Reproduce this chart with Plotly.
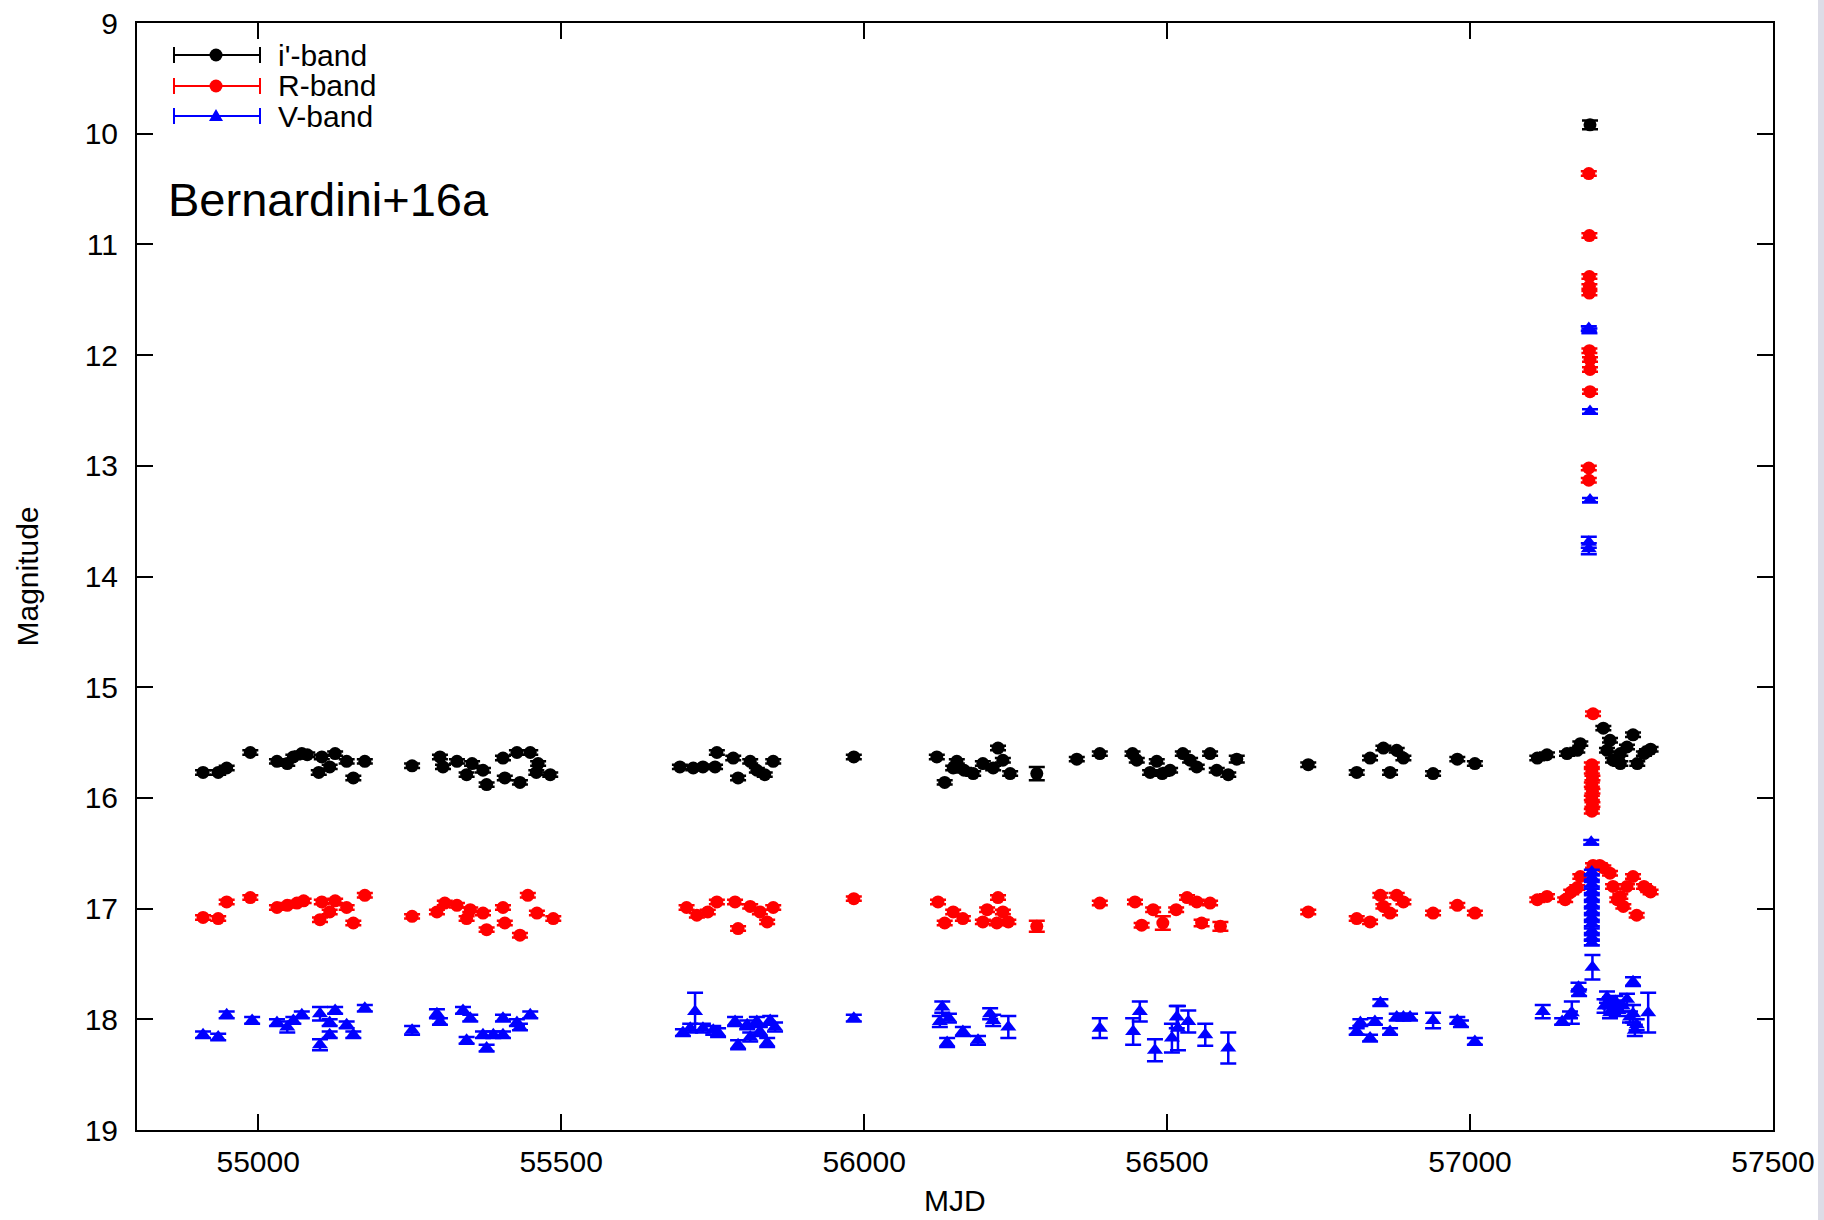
import plotly.graph_objects as go

# ---------------------------------------------------------------------------
# Optical light curves of V404 Cyg (i', R, V), 2009-2015
# ---------------------------------------------------------------------------

# i'-band
I_MJD = [54909, 54934, 54948, 54987, 55031, 55048, 55058, 55072, 55081, 55105,
         55100, 55118, 55127, 55146, 55157, 55176,
         55254, 55300, 55305, 55328, 55344, 55353, 55371, 55377, 55404, 55407,
         55427, 55432, 55449, 55462, 55459, 55482,
         55696, 55718, 55734, 55754, 55757, 55784, 55792, 55812, 55823, 55836,
         55850,
         55983, 56120, 56133, 56147, 56153, 56165, 56180, 56196, 56213, 56221,
         56229, 56241, 56285,
         56351, 56389, 56443, 56450, 56472, 56483, 56492, 56505, 56526, 56538,
         56549, 56571, 56582, 56601, 56615,
         56733, 56813, 56835, 56857, 56868, 56879, 56890, 56939, 56979, 57008,
         57111, 57127, 57160, 57177, 57182, 57198, 57220, 57226, 57231, 57236,
         57248, 57248, 57259, 57269, 57276, 57287, 57292, 57298]
I_MAG = [15.77, 15.77, 15.73, 15.59, 15.67, 15.69, 15.63, 15.60, 15.61, 15.63,
         15.77, 15.72, 15.60, 15.67, 15.82, 15.67,
         15.71, 15.63, 15.72, 15.67, 15.79, 15.69, 15.75, 15.88, 15.64, 15.82,
         15.59, 15.86, 15.59, 15.69, 15.77, 15.79,
         15.72, 15.73, 15.72, 15.72, 15.59, 15.64, 15.82, 15.67, 15.75, 15.79,
         15.67,
         15.63, 15.63, 15.86, 15.73, 15.67, 15.75, 15.78, 15.69, 15.73, 15.55,
         15.66, 15.78, 15.78,
         15.65, 15.60, 15.60, 15.66, 15.77, 15.67, 15.78, 15.75, 15.60, 15.66,
         15.72, 15.60, 15.75, 15.79, 15.65,
         15.70, 15.77, 15.64, 15.55, 15.77, 15.57, 15.64, 15.78, 15.65, 15.69,
         15.64, 15.61, 15.60, 15.57, 15.51, 9.92, 15.37, 15.57, 15.48, 15.66,
         15.60, 15.69, 15.54, 15.43, 15.69, 15.60, 15.58, 15.56]
I_ERR = [0.02, 0.02, 0.02, 0.02, 0.02, 0.02, 0.02, 0.02, 0.02, 0.02,
         0.02, 0.02, 0.02, 0.02, 0.02, 0.02,
         0.02, 0.02, 0.02, 0.02, 0.02, 0.02, 0.02, 0.02, 0.02, 0.02,
         0.02, 0.02, 0.02, 0.02, 0.02, 0.02,
         0.02, 0.02, 0.02, 0.02, 0.02, 0.02, 0.02, 0.02, 0.02, 0.02,
         0.02,
         0.02, 0.02, 0.02, 0.02, 0.02, 0.02, 0.02, 0.02, 0.02, 0.02,
         0.02, 0.02, 0.06,
         0.02, 0.02, 0.02, 0.02, 0.02, 0.02, 0.02, 0.02, 0.02, 0.02,
         0.02, 0.02, 0.02, 0.02, 0.03,
         0.02, 0.02, 0.02, 0.02, 0.02, 0.02, 0.02, 0.02, 0.02, 0.02,
         0.02, 0.02, 0.02, 0.02, 0.02, 0.04, 0.02, 0.02, 0.02, 0.02,
         0.02, 0.02, 0.02, 0.02, 0.02, 0.02, 0.02, 0.02]

# R-band
R_MJD = [54909, 54934, 54948, 54987, 55031, 55048, 55064, 55075, 55102, 55105,
         55118, 55127, 55146, 55157, 55176,
         55254, 55295, 55308, 55328, 55344, 55350, 55371, 55377, 55404, 55407,
         55432, 55445, 55460, 55487,
         55707, 55724, 55742, 55757, 55787, 55792, 55812, 55828, 55840, 55850,
         55983, 56122, 56133, 56147, 56163, 56196, 56203, 56219, 56221, 56229,
         56238, 56285,
         56389, 56447, 56458, 56477, 56493, 56515, 56533, 56549, 56557, 56571,
         56588,
         56733, 56813, 56835, 56852, 56857, 56868, 56879, 56890, 56939, 56979,
         57008,
         57111, 57127, 57157, 57167, 57177, 57182, 57203, 57214, 57220, 57231,
         57236, 57243, 57248, 57253, 57259, 57269, 57275, 57287, 57294, 57298,
         57196, 57197, 57197, 57197, 57197, 57197, 57198, 57198, 57198, 57196,
         57196, 57203,
         57201, 57201, 57202, 57201, 57202, 57201, 57202, 57201]
R_MAG = [17.08, 17.09, 16.94, 16.90, 16.99, 16.97, 16.95, 16.93, 17.10, 16.94,
         17.03, 16.93, 16.99, 17.13, 16.88,
         17.07, 17.03, 16.95, 16.97, 17.09, 17.01, 17.04, 17.19, 16.99, 17.13,
         17.24, 16.88, 17.04, 17.09,
         16.99, 17.06, 17.03, 16.94, 16.94, 17.18, 16.98, 17.03, 17.12, 16.99,
         16.91, 16.94, 17.13, 17.03, 17.09, 17.12, 17.01, 17.13, 16.90, 17.03,
         17.12, 17.16,
         16.95, 16.94, 17.15, 17.01, 17.13, 17.01, 16.90, 16.94, 17.13, 16.95,
         17.16,
         17.03, 17.09, 17.12, 16.88, 16.98, 17.04, 16.88, 16.94, 17.04, 16.97,
         17.04,
         16.92, 16.89, 16.92, 16.85, 16.81, 16.71, 16.61, 16.61, 16.63, 16.68,
         16.80, 16.92, 16.89, 16.98, 16.80, 16.71, 17.06, 16.80, 16.83, 16.85,
         10.36, 10.92, 11.29, 11.38, 11.44, 11.96, 12.04, 12.13, 12.33, 13.02,
         13.13, 15.24,
         15.70, 15.76, 15.82, 15.88, 15.94, 16.00, 16.06, 16.12]
R_ERR = [0.02, 0.02, 0.02, 0.02, 0.02, 0.02, 0.02, 0.02, 0.02, 0.02,
         0.02, 0.02, 0.02, 0.02, 0.02,
         0.02, 0.02, 0.02, 0.02, 0.02, 0.02, 0.02, 0.02, 0.02, 0.02,
         0.02, 0.02, 0.02, 0.02,
         0.02, 0.02, 0.02, 0.02, 0.02, 0.02, 0.02, 0.02, 0.02, 0.02,
         0.02, 0.02, 0.02, 0.02, 0.02, 0.02, 0.02, 0.02, 0.02, 0.02,
         0.02, 0.05,
         0.02, 0.02, 0.02, 0.02, 0.06, 0.02, 0.02, 0.02, 0.03, 0.02,
         0.04,
         0.02, 0.02, 0.02, 0.02, 0.02, 0.02, 0.02, 0.02, 0.02, 0.02,
         0.02,
         0.02, 0.02, 0.02, 0.02, 0.02, 0.02, 0.02, 0.02, 0.02, 0.02,
         0.02, 0.02, 0.02, 0.02, 0.02, 0.02, 0.02, 0.02, 0.02, 0.02,
         0.02, 0.02, 0.02, 0.02, 0.02, 0.02, 0.02, 0.02, 0.02, 0.02,
         0.02, 0.02,
         0.02, 0.02, 0.02, 0.02, 0.02, 0.02, 0.02, 0.02]

# V-band
V_MJD = [54909, 54934, 54948, 54990, 55031, 55048, 55058, 55072, 55102, 55102,
         55118, 55118, 55127, 55146, 55157, 55176,
         55254, 55295, 55300, 55338, 55350, 55344, 55371, 55377, 55388, 55404,
         55404, 55427, 55432, 55449,
         55701, 55721, 55713, 55734, 55751, 55759, 55787, 55792, 55807, 55812,
         55823, 55828, 55840, 55845, 55853,
         55983, 56125, 56129, 56137, 56140, 56163, 56188, 56208, 56213, 56238,
         56389, 56444, 56455, 56480, 56508, 56516, 56518, 56535, 56563, 56601,
         56813, 56819, 56835, 56843, 56852, 56868, 56879, 56890, 56901, 56939,
         56979, 56985, 57008,
         57120, 57152, 57165, 57168, 57179, 57180, 57202, 57200,
         57196, 57197, 57198, 57198, 57196, 57196,
         57201, 57201, 57201, 57201, 57201, 57201, 57201, 57201, 57201, 57201,
         57201, 57201,
         57222, 57226, 57231, 57231, 57236, 57240, 57245, 57252, 57259, 57264,
         57269, 57269, 57272, 57275, 57294]
V_MAG = [18.14, 18.16, 17.96, 18.01, 18.03, 18.07, 18.01, 17.96, 17.95, 18.23,
         18.03, 18.14, 17.92, 18.05, 18.14, 17.90,
         18.10, 17.95, 18.02, 17.92, 17.99, 18.19, 18.14, 18.26, 18.14, 18.14,
         17.99, 18.03, 18.07, 17.96,
         18.12, 17.93, 18.08, 18.08, 18.10, 18.12, 18.02, 18.23, 18.05, 18.16,
         18.02, 18.11, 18.21, 18.01, 18.07,
         17.99, 18.02, 17.89, 18.21, 17.99, 18.11, 18.19, 17.95, 18.01, 18.07,
         18.08, 18.11, 17.93, 18.28, 18.17, 17.98, 18.08, 18.02, 18.14, 18.26,
         18.11, 18.03, 18.17, 18.02, 17.85, 18.11, 17.98, 17.98, 17.98, 18.01,
         18.01, 18.04, 18.20,
         17.93, 18.02, 17.96, 17.94, 17.71, 17.76, 17.53, 16.40,
         11.76, 11.78, 12.51, 13.31, 13.69, 13.75,
         16.67, 16.72, 16.78, 16.84, 16.90, 16.96, 17.02, 17.08, 17.14, 17.20,
         17.26, 17.31,
         17.88, 17.80, 17.85, 17.94, 17.90, 17.84, 17.92, 17.88, 17.82, 17.98,
         17.66, 17.95, 18.10, 18.05, 17.94]
V_ERR = [0.03, 0.03, 0.03, 0.03, 0.03, 0.05, 0.03, 0.03, 0.06, 0.05,
         0.03, 0.03, 0.03, 0.03, 0.03, 0.03,
         0.04, 0.04, 0.03, 0.03, 0.03, 0.03, 0.03, 0.03, 0.03, 0.03,
         0.03, 0.03, 0.03, 0.03,
         0.03, 0.17, 0.04, 0.04, 0.04, 0.04, 0.04, 0.04, 0.04, 0.04,
         0.04, 0.04, 0.04, 0.04, 0.04,
         0.03, 0.05, 0.05, 0.04, 0.04, 0.04, 0.04, 0.05, 0.05, 0.10,
         0.09, 0.12, 0.09, 0.10, 0.13, 0.10, 0.20, 0.10, 0.10, 0.14,
         0.03, 0.03, 0.03, 0.03, 0.03, 0.03, 0.03, 0.03, 0.03, 0.07,
         0.03, 0.03, 0.03,
         0.06, 0.03, 0.03, 0.10, 0.04, 0.03, 0.11, 0.02,
         0.02, 0.02, 0.02, 0.02, 0.05, 0.05,
         0.02, 0.02, 0.02, 0.02, 0.02, 0.02, 0.02, 0.02, 0.02, 0.02,
         0.02, 0.02,
         0.06, 0.05, 0.05, 0.05, 0.05, 0.05, 0.05, 0.05, 0.05, 0.05,
         0.04, 0.08, 0.05, 0.05, 0.18]

X_TICKS = [55000, 55500, 56000, 56500, 57000, 57500]
Y_TICKS = [9, 10, 11, 12, 13, 14, 15, 16, 17, 18, 19]

BANDS = [
    ("i'-band", I_MJD, I_MAG, I_ERR, "#000000", "circle"),
    ("R-band", R_MJD, R_MAG, R_ERR, "#ff0000", "circle"),
    ("V-band", V_MJD, V_MAG, V_ERR, "#0000ff", "triangle-up"),
]

FONT = "Liberation Sans, Arial, sans-serif"
W, H = 1824, 1220
L, R, T, B = 137, 51, 23, 90
PW, PH = W - L - R, H - T - B


def px_x(x):
    """Pixel column -> paper fraction."""
    return (x - L) / PW


def px_y(y):
    """Pixel row (from top) -> paper fraction."""
    return (H - B - y) / PH


fig = go.Figure()
for name, mjd, mag, err, color, symbol in BANDS:
    fig.add_trace(go.Scatter(
        x=mjd, y=mag, mode="markers", name=name, showlegend=False,
        marker=dict(color=color, symbol=symbol,
                    size=13 if symbol == "circle" else 14,
                    line=dict(width=0)),
        error_y=dict(type="data", array=err, visible=True, color=color,
                     thickness=2.5, width=8),
    ))

axis_common = dict(
    showline=True, linecolor="black", linewidth=2, mirror="ticks",
    ticks="inside", ticklen=16, tickwidth=1.5, tickcolor="black",
    showgrid=False, zeroline=False, automargin=False,
    tickfont=dict(family=FONT, size=30, color="black"),
)
fig.update_xaxes(range=[54800, 57500], tickvals=X_TICKS,
                 ticktext=[str(t) for t in X_TICKS], ticklabelstandoff=4,
                 **axis_common)
fig.update_yaxes(range=[19, 9], tickvals=Y_TICKS,
                 ticktext=[str(t) for t in Y_TICKS], ticklabelstandoff=11,
                 **axis_common)

annotations = [
    dict(text="MJD", x=0.5, y=px_y(1200), xref="paper", yref="paper",
         showarrow=False, xanchor="center", yanchor="middle",
         font=dict(family=FONT, size=30, color="black")),
    dict(text="Magnitude", x=px_x(27), y=0.5, xref="paper", yref="paper",
         showarrow=False, textangle=-90, xanchor="center", yanchor="middle",
         font=dict(family=FONT, size=30, color="black")),
    dict(text="Bernardini+16a", x=px_x(166), y=px_y(199), xref="paper",
         yref="paper", showarrow=False, xanchor="left", yanchor="middle",
         font=dict(family=FONT, size=47, color="black")),
]

# Hand-drawn key in the upper-left corner: error-bar sample, marker, label
shapes = []
key_rows = [55, 86, 116]
for (name, _m, _g, _e, color, symbol), row in zip(BANDS, key_rows):
    yc = px_y(row)
    shapes.append(dict(type="line", xref="paper", yref="paper",
                       x0=px_x(174), x1=px_x(260), y0=yc, y1=yc,
                       line=dict(color=color, width=2)))
    for xe in (174, 260):
        shapes.append(dict(type="line", xref="paper", yref="paper",
                           xsizemode="pixel", ysizemode="pixel",
                           xanchor=px_x(xe), yanchor=yc,
                           x0=0, x1=0, y0=-8, y1=8,
                           line=dict(color=color, width=2)))
    if symbol == "circle":
        shapes.append(dict(type="circle", xref="paper", yref="paper",
                           xsizemode="pixel", ysizemode="pixel",
                           xanchor=px_x(216), yanchor=yc,
                           x0=-6.5, x1=6.5, y0=-6.5, y1=6.5,
                           fillcolor=color, line=dict(width=0)))
    else:
        shapes.append(dict(type="path", xref="paper", yref="paper",
                           xsizemode="pixel", ysizemode="pixel",
                           xanchor=px_x(216), yanchor=yc,
                           path="M -7,-5 L 7,-5 L 0,7 Z",
                           fillcolor=color, line=dict(width=0)))
    annotations.append(dict(text=name, x=px_x(276), y=yc, xref="paper",
                            yref="paper", showarrow=False, xanchor="left",
                            yanchor="middle",
                            font=dict(family=FONT, size=30, color="black")))

# light window-edge strip on the far right
shapes.append(dict(type="rect", xref="paper", yref="paper",
                   x0=px_x(1818), x1=px_x(1824), y0=px_y(1220), y1=px_y(0),
                   fillcolor="#dcdce6", line=dict(width=0), layer="above"))

fig.update_layout(
    width=W, height=H,
    margin=dict(l=L, r=R, t=T, b=B, pad=0),
    paper_bgcolor="white", plot_bgcolor="white",
    showlegend=False,
    annotations=annotations, shapes=shapes,
)

fig.write_html("out.html")
